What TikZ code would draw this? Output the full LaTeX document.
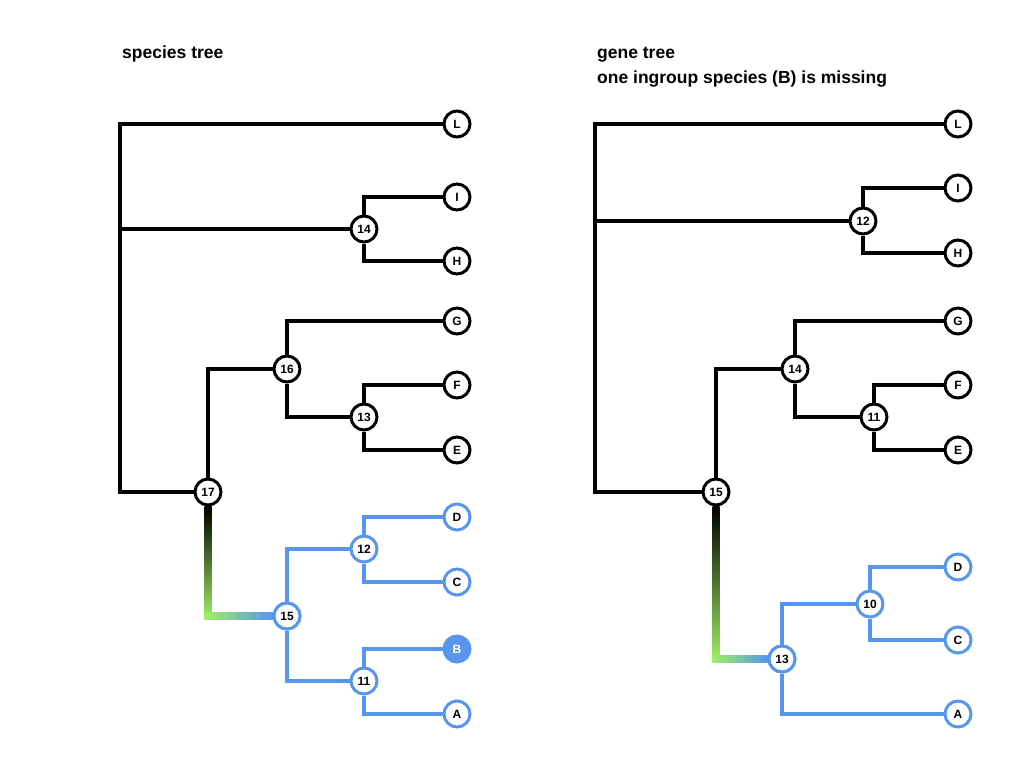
\documentclass[tikz,border=0pt]{standalone}
\usepackage{fontspec}
\setmainfont{Liberation Sans}
\usetikzlibrary{calc, positioning}
\definecolor{treeblue}{RGB}{88,150,238}
\definecolor{treegreen}{RGB}{160,240,100}
\tikzstyle{vtx}=[inner sep=0pt, draw, shape=circle, line width=3pt, minimum size=26pt, fill=white, font=\fontsize{12}{12}\bfseries]
\tikzstyle{bvtx}=[vtx, draw=treeblue]
\tikzstyle{brn}=[line width=4pt, black]
\tikzstyle{bbrn}=[line width=4pt, treeblue]
\tikzstyle{ttl}=[anchor=base west, inner sep=0pt, font=\fontsize{17.5}{20}\bfseries]

\begin{document}
\begin{tikzpicture}[x=1pt, y=-1pt]
\useasboundingbox (0,0) rectangle (1024,768);
\node[ttl] (stitle) at (122,59) {species tree};
\node[ttl] (gtitle) at (597,59) {gene tree};
\node[ttl] (gsub) at (597,83) {one ingroup species (B) is missing};
%
% species tree
\node[vtx] (sL) at (457,124) {L};
\node[vtx] (sI) at (457,197) {I};
\node[vtx] (sH) at (457,261) {H};
\node[vtx] (sG) at (457,321) {G};
\node[vtx] (sF) at (457,385) {F};
\node[vtx] (sE) at (457,450) {E};
\node[bvtx] (sD) at (457,517) {D};
\node[bvtx] (sC) at (457,582) {C};
\node[bvtx, fill=treeblue, text=white] (sB) at (457,649) {B};
\node[bvtx] (sA) at (457,714) {A};
\node[vtx] (s14) at (364,229) {14};
\node[vtx] (s13) at (364,417) {13};
\node[vtx] (s16) at (287,369) {16};
\node[vtx] (s17) at (208,492) {17};
\node[bvtx] (s12) at (364,549) {12};
\node[bvtx] (s11) at (364,681) {11};
\node[bvtx] (s15) at (287,616) {15};
\coordinate (sr) at (120,492);
\coordinate (sk) at (s17 |- s15);
%
\draw[brn] (sL) -| (sr) -- (s17);
\draw[brn] (sr |- s14) -- (s14);
\draw[brn] (sI) -| (s14) |- (sH);
\draw[brn] (s17) |- (s16);
\draw[brn] (sG) -| (s16) |- (s13);
\draw[brn] (sF) -| (s13) |- (sE);
\draw[bbrn] (s12) -| (s15) |- (s11);
\draw[bbrn] (sD) -| (s12) |- (sC);
\draw[bbrn] (sB) -| (s11) |- (sA);
\shade[top color=black, bottom color=treegreen] ($(s17.south)+(-3.5,0)$) rectangle ($(sk)+(3.5,3.5)$);
\shade[left color=treegreen, right color=treeblue] ($(sk)+(-3.5,-3.5)$) rectangle ($(s15.west)+(0,3.5)$);
\node[bvtx] at (s15) {15};
%
% gene tree
\node[vtx] (gL) at (958,124) {L};
\node[vtx] (gI) at (958,188) {I};
\node[vtx] (gH) at (958,253) {H};
\node[vtx] (gG) at (958,321) {G};
\node[vtx] (gF) at (958,385) {F};
\node[vtx] (gE) at (958,450) {E};
\node[bvtx] (gD) at (958,567) {D};
\node[bvtx] (gC) at (958,640) {C};
\node[bvtx] (gA) at (958,714) {A};
\node[vtx] (g12) at (863,221) {12};
\node[vtx] (g11) at (874,417) {11};
\node[vtx] (g14) at (795,369) {14};
\node[vtx] (g15) at (716,492) {15};
\node[bvtx] (g10) at (870,604) {10};
\node[bvtx] (g13) at (782,659) {13};
\coordinate (gr) at (595,492);
\coordinate (gk) at (g15 |- g13);
%
\draw[brn] (gL) -| (gr) -- (g15);
\draw[brn] (gr |- g12) -- (g12);
\draw[brn] (gI) -| (g12) |- (gH);
\draw[brn] (g15) |- (g14);
\draw[brn] (gG) -| (g14) |- (g11);
\draw[brn] (gF) -| (g11) |- (gE);
\draw[bbrn] (g10) -| (g13) |- (gA);
\draw[bbrn] (gD) -| (g10) |- (gC);
\shade[top color=black, bottom color=treegreen] ($(g15.south)+(-3.5,0)$) rectangle ($(gk)+(3.5,3.5)$);
\shade[left color=treegreen, right color=treeblue] ($(gk)+(-3.5,-3.5)$) rectangle ($(g13.west)+(0,3.5)$);
\node[bvtx] at (g13) {13};
\end{tikzpicture}
\end{document}
